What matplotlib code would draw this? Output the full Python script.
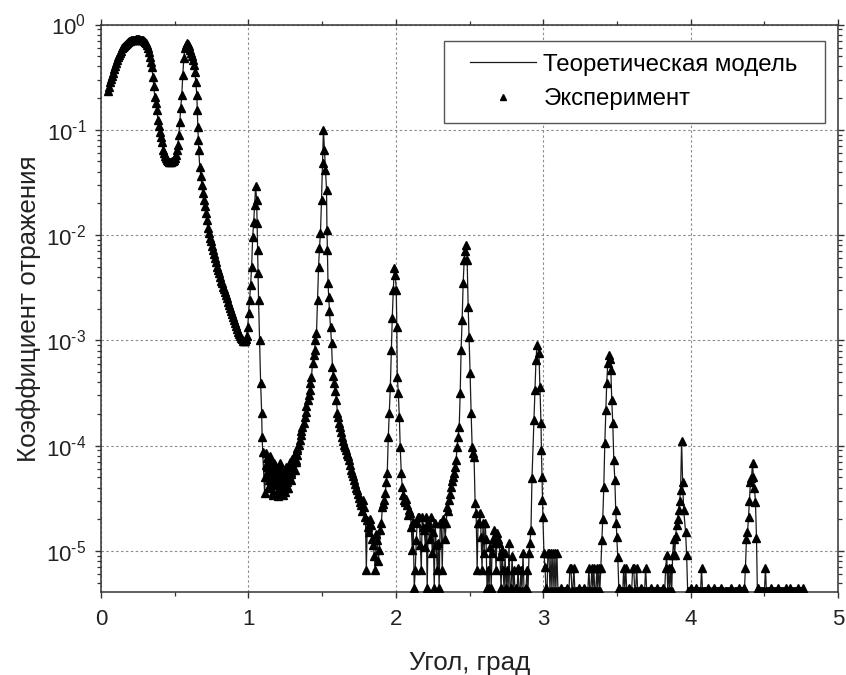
import numpy as np
import matplotlib
matplotlib.use("Agg")
import matplotlib.pyplot as plt
from matplotlib.patches import Rectangle
from matplotlib.ticker import MultipleLocator, LogLocator, FuncFormatter, NullFormatter

plt.rcParams["font.family"] = ["Liberation Sans", "DejaVu Sans"]
plt.rcParams["mathtext.fontset"] = "custom"
plt.rcParams["mathtext.rm"] = "Liberation Sans"
plt.rcParams["mathtext.it"] = "Liberation Sans"
plt.rcParams["mathtext.default"] = "regular"

# --- total external reflection region and first Bragg peak (angle, deg / reflectivity)
angle_a = [0.045, 0.052, 0.061, 0.068, 0.074, 0.081, 0.088, 0.095, 0.101, 0.108,
           0.115, 0.122, 0.129, 0.135, 0.142, 0.149, 0.155, 0.162, 0.169, 0.176,
           0.183, 0.190, 0.196, 0.203, 0.210, 0.217, 0.223, 0.230, 0.237, 0.244,
           0.250, 0.257, 0.264, 0.270, 0.277, 0.284, 0.291, 0.298, 0.304, 0.311,
           0.318, 0.325, 0.332, 0.338, 0.345, 0.352, 0.358, 0.365, 0.372, 0.379,
           0.386, 0.392, 0.399, 0.406, 0.413, 0.420, 0.427, 0.433, 0.440, 0.447,
           0.454, 0.460, 0.467, 0.474, 0.481, 0.488, 0.494, 0.501, 0.508, 0.514,
           0.521, 0.528, 0.535, 0.541, 0.548, 0.555, 0.562, 0.569, 0.575, 0.582,
           0.589, 0.595, 0.602, 0.609, 0.616, 0.623, 0.630, 0.636, 0.643, 0.650,
           0.653, 0.657, 0.660, 0.663, 0.670, 0.677, 0.684, 0.690, 0.697, 0.704,
           0.711, 0.717, 0.724, 0.731, 0.738, 0.745, 0.751, 0.758, 0.765, 0.771,
           0.778, 0.785, 0.792, 0.799, 0.806, 0.812, 0.819, 0.826, 0.832, 0.839,
           0.846, 0.853, 0.860, 0.866, 0.873, 0.880, 0.887, 0.893, 0.900, 0.907,
           0.914, 0.920, 0.927, 0.934, 0.941, 0.948, 0.954, 0.961, 0.968, 0.975,
           0.982, 0.988, 0.995, 1.002, 1.008, 1.015, 1.022, 1.029, 1.036, 1.042,
           1.049, 1.056, 1.059, 1.063, 1.066, 1.069, 1.076, 1.083, 1.090, 1.093,
           1.097]
refl_a = [0.235, 0.255, 0.284, 0.305, 0.325, 0.346, 0.375, 0.404, 0.430, 0.460,
          0.490, 0.515, 0.536, 0.565, 0.598, 0.615, 0.630, 0.639, 0.655, 0.667,
          0.678, 0.690, 0.697, 0.705, 0.712, 0.716, 0.718, 0.720, 0.725, 0.728,
          0.727, 0.724, 0.720, 0.717, 0.712, 0.705, 0.695, 0.682, 0.665, 0.639,
          0.598, 0.550, 0.491, 0.440, 0.395, 0.317, 0.260, 0.205, 0.180, 0.154,
          0.124, 0.108, 0.0953, 0.085, 0.0766, 0.0643, 0.060, 0.0564, 0.054, 0.0516,
          0.050, 0.0495, 0.0494, 0.0497, 0.0505, 0.051, 0.052, 0.0540, 0.058, 0.0643,
          0.0717, 0.090, 0.119, 0.161, 0.214, 0.331, 0.481, 0.598, 0.640, 0.667,
          0.653, 0.620, 0.573, 0.540, 0.502, 0.460, 0.410, 0.354, 0.284, 0.214,
          0.154, 0.106, 0.080, 0.0643, 0.0443, 0.036, 0.0299, 0.025, 0.0215, 0.0188,
          0.0162, 0.0139, 0.0117, 0.0104, 0.0094, 0.0087, 0.0079, 0.00722, 0.0066, 0.0060,
          0.00555, 0.0050, 0.0047, 0.00437, 0.0040, 0.0037, 0.00351, 0.0032, 0.0031, 0.00288,
          0.0027, 0.0025, 0.00232, 0.00218, 0.00204, 0.00190, 0.00178, 0.00167, 0.00156, 0.00146,
          0.00137, 0.00128, 0.00121, 0.00115, 0.00110, 0.00105, 0.00102, 0.00099, 0.00098, 0.00099,
          0.00103, 0.00110, 0.00134, 0.00182, 0.00242, 0.00336, 0.00498, 0.0096, 0.0133, 0.0193,
          0.029, 0.0215, 0.0130, 0.00722, 0.00437, 0.00242, 0.00101, 3.94e-4, 2.04e-4, 1.21e-4,
          8.71e-5]

# --- second and third Bragg peaks
angle_b = [1.110, 1.113, 1.117, 1.120, 1.124, 1.127, 1.130, 1.134, 1.137, 1.140,
           1.144, 1.147, 1.151, 1.154, 1.157, 1.161, 1.164, 1.167, 1.171, 1.174,
           1.178, 1.181, 1.184, 1.188, 1.191, 1.194, 1.198, 1.201, 1.205, 1.208,
           1.211, 1.215, 1.218, 1.221, 1.225, 1.228, 1.232, 1.235, 1.238, 1.242,
           1.245, 1.248, 1.252, 1.255, 1.259, 1.262, 1.265, 1.269, 1.272, 1.276,
           1.279, 1.282, 1.286, 1.289, 1.292, 1.296, 1.299, 1.303, 1.306, 1.309,
           1.313, 1.316, 1.320, 1.323, 1.327, 1.330, 1.333, 1.340, 1.347, 1.354,
           1.360, 1.367, 1.374, 1.381, 1.388, 1.394, 1.401, 1.408, 1.415, 1.421,
           1.428, 1.435, 1.442, 1.449, 1.455, 1.462, 1.469, 1.476, 1.482, 1.489,
           1.496, 1.503, 1.509, 1.516, 1.523, 1.530, 1.533, 1.536, 1.540, 1.545,
           1.550, 1.557, 1.564, 1.570, 1.577, 1.584, 1.590, 1.597, 1.604, 1.611,
           1.618, 1.624, 1.631, 1.638, 1.645, 1.651, 1.658, 1.665, 1.672, 1.678,
           1.685, 1.692, 1.699, 1.706, 1.712, 1.719, 1.726, 1.732, 1.739, 1.746,
           1.753, 1.759, 1.766, 1.773, 1.780, 1.787, 1.794, 1.800, 1.807, 1.814,
           1.821, 1.827, 1.834, 1.841, 1.848, 1.854, 1.861, 1.868, 1.875, 1.881,
           1.888, 1.895, 1.902, 1.909, 1.915, 1.922, 1.929, 1.935, 1.942, 1.949,
           1.956, 1.963, 1.970, 1.976, 1.983, 1.990, 1.997, 2.003, 2.007, 2.010,
           2.017, 2.024, 2.030, 2.037, 2.044, 2.051, 2.058, 2.064, 2.071, 2.078,
           2.085, 2.091, 2.098, 2.105, 2.112, 2.118, 2.125, 2.132, 2.139, 2.145,
           2.152, 2.159, 2.166, 2.173, 2.179, 2.186, 2.193, 2.200, 2.206, 2.213,
           2.220, 2.227, 2.233, 2.240, 2.247, 2.254, 2.261, 2.267, 2.274, 2.281,
           2.288, 2.294, 2.301, 2.308, 2.315, 2.322, 2.328, 2.335, 2.342, 2.349,
           2.355]
refl_b = [3.55e-5, 5.0e-5, 6.56e-5, 8.5e-5, 7.64e-5, 6.2e-5, 5.27e-5, 4.0e-5, 4.72e-5, 5.9e-5,
          7.0e-5, 8.0e-5, 6.56e-5, 5.3e-5, 4.23e-5, 4.6e-5, 3.4e-5, 3.6e-5, 5.88e-5, 6.8e-5,
          6.56e-5, 5.6e-5, 4.93e-5, 4.3e-5, 5.27e-5, 6.1e-5, 3.8e-5, 3.3e-5, 4.23e-5, 5.0e-5,
          6.0e-5, 6.9e-5, 5.88e-5, 4.1e-5, 4.5e-5, 3.7e-5, 3.4e-5, 5.3e-5, 3.97e-5, 4.4e-5,
          4.93e-5, 3.6e-5, 6.2e-5, 5.0e-5, 3.97e-5, 5.6e-5, 4.5e-5, 4.0e-5, 5.88e-5, 5.1e-5,
          7.0e-5, 6.3e-5, 4.72e-5, 5.4e-5, 5.6e-5, 7.4e-5, 6.56e-5, 6.0e-5, 7.64e-5, 7.0e-5,
          5.88e-5, 8.4e-5, 7.0e-5, 7.3e-5, 8.16e-5, 9.0e-5, 9.5e-5, 1.02e-4, 1.13e-4, 1.25e-4,
          1.38e-4, 1.50e-4, 1.65e-4, 1.87e-4, 2.1e-4, 2.4e-4, 2.72e-4, 3.0e-4, 3.38e-4, 3.9e-4,
          4.49e-4, 6.10e-4, 7.2e-4, 8.1e-4, 1.0e-3, 1.18e-3, 2.42e-3, 4.98e-3, 7.5e-3, 1.05e-2,
          2.15e-2, 4.84e-2, 0.100, 0.0643, 0.0415, 0.0268, 0.0112, 0.00722, 0.00351, 0.0026,
          0.0019, 1.35e-3, 9.45e-4, 5.59e-4, 4.6e-4, 3.94e-4, 3.3e-4, 2.72e-4, 2.04e-4, 1.85e-4,
          1.64e-4, 1.5e-4, 1.35e-4, 1.21e-4, 1.1e-4, 1.02e-4, 9.8e-5, 9.1e-5, 8.3e-5, 7.9e-5,
          7.3e-5, 6.5e-5, 5.88e-5, 5.5e-5, 5.1e-5, 4.72e-5, 4.3e-5, 4.0e-5, 3.8e-5, 3.5e-5,
          3.19e-5, 2.9e-5, 2.73e-5, 2.4e-5, 3.05e-5, 2.6e-5, 2.10e-5, 6.6e-6, 1.97e-5, 1.7e-5,
          1.52e-5, 2.0e-5, 1.77e-5, 1.3e-5, 1.14e-5, 9.0e-6, 6.6e-6, 1.45e-5, 1.27e-5, 8.0e-6,
          1.02e-5, 1.58e-5, 1.85e-5, 2.62e-5, 2.8e-5, 3.05e-5, 3.55e-5, 4.5e-5, 5.5e-5, 1.21e-4,
          2.04e-4, 3.61e-4, 8.1e-4, 1.63e-3, 3.0e-3, 4.87e-3, 4.18e-3, 3.0e-3, 1.34e-3, 4.49e-4,
          3.17e-4, 1.87e-4, 9.7e-5, 5.5e-5, 4.05e-5, 3.4e-5, 3.05e-5, 2.9e-5, 3.1e-5, 2.73e-5,
          2.2e-5, 2.45e-5, 2.3e-5, 1.69e-5, 1.02e-5, 1.9e-5, 4.4e-6, 6.6e-6, 1.27e-5, 1.85e-5,
          2.10e-5, 2.1e-5, 1.14e-5, 6.6e-6, 2.10e-5, 1.7e-5, 1.58e-5, 1.1e-5, 2.10e-5, 4.4e-6,
          1.85e-5, 1.69e-5, 1.3e-5, 2.10e-5, 9.6e-6, 1.5e-5, 4.4e-6, 1.85e-5, 1.14e-5, 6.6e-6,
          1.2e-5, 4.4e-6, 1.85e-5, 1.85e-5, 6.6e-6, 2.0e-5, 1.85e-5, 1.3e-5, 1.85e-5, 2.62e-5,
          2.4e-5]

# --- higher-order Bragg peaks down to the background level
angle_c = [2.362, 2.369, 2.376, 2.383, 2.389, 2.396, 2.403, 2.409, 2.416, 2.423,
           2.430, 2.437, 2.443, 2.450, 2.457, 2.464, 2.470, 2.477, 2.484, 2.491,
           2.497, 2.504, 2.511, 2.518, 2.524, 2.531, 2.538, 2.545, 2.552, 2.558,
           2.565, 2.572, 2.579, 2.585, 2.592, 2.599, 2.606, 2.612, 2.619, 2.626,
           2.633, 2.640, 2.647, 2.653, 2.660, 2.667, 2.674, 2.680, 2.687, 2.694,
           2.701, 2.707, 2.714, 2.721, 2.728, 2.735, 2.741, 2.748, 2.755, 2.762,
           2.768, 2.775, 2.782, 2.789, 2.796, 2.802, 2.809, 2.816, 2.823, 2.829,
           2.836, 2.843, 2.849, 2.856, 2.863, 2.870, 2.876, 2.883, 2.890, 2.897,
           2.904, 2.910, 2.917, 2.924, 2.937, 2.944, 2.951, 2.958, 2.971, 2.978,
           2.985, 2.988, 2.992, 2.995, 2.998, 3.005, 3.012, 3.019, 3.026, 3.032,
           3.039, 3.046, 3.053, 3.059, 3.066, 3.073, 3.080, 3.086, 3.093, 3.100,
           3.107, 3.113, 3.120, 3.127, 3.134, 3.141, 3.147, 3.154, 3.161, 3.168,
           3.175, 3.181, 3.188, 3.195, 3.201, 3.208, 3.215, 3.222, 3.228, 3.235,
           3.242, 3.249, 3.256, 3.262, 3.269, 3.276, 3.283, 3.290, 3.296, 3.303,
           3.310, 3.316, 3.323, 3.330, 3.337, 3.343, 3.350, 3.357, 3.364, 3.370,
           3.377, 3.384, 3.391, 3.398, 3.404, 3.411, 3.418, 3.425, 3.431, 3.438,
           3.445, 3.452, 3.459, 3.465, 3.472, 3.479, 3.486, 3.492, 3.496, 3.499,
           3.506, 3.513, 3.520, 3.526, 3.533, 3.540, 3.546, 3.553, 3.560, 3.567,
           3.573, 3.580, 3.587, 3.594, 3.600, 3.607, 3.614, 3.621, 3.627, 3.634,
           3.641, 3.648, 3.654, 3.661, 3.668, 3.675, 3.682, 3.688, 3.695, 3.702,
           3.709, 3.716, 3.722, 3.729, 3.736, 3.743, 3.750, 3.757, 3.763, 3.770,
           3.777, 3.784, 3.790, 3.797, 3.804, 3.810, 3.817, 3.824, 3.831, 3.838,
           3.845, 3.851, 3.858, 3.865, 3.872, 3.878, 3.885, 3.892, 3.899, 3.905,
           3.912, 3.919, 3.926, 3.932, 3.939, 3.946, 3.953, 3.966, 3.973, 3.980,
           3.987, 3.993, 4.000, 4.007, 4.014, 4.020, 4.027, 4.034, 4.041, 4.047,
           4.054, 4.061, 4.068, 4.074, 4.081, 4.088, 4.095, 4.101, 4.108, 4.115,
           4.122, 4.128, 4.135, 4.142, 4.149, 4.156, 4.162, 4.169, 4.176, 4.183,
           4.189, 4.196, 4.203, 4.210, 4.216, 4.223, 4.230, 4.237, 4.243, 4.250,
           4.257, 4.264, 4.270, 4.277, 4.284, 4.291, 4.298, 4.304, 4.311, 4.318,
           4.325, 4.332, 4.338, 4.345, 4.352, 4.359, 4.365, 4.372, 4.379, 4.386,
           4.393, 4.399, 4.406, 4.413, 4.420, 4.426, 4.433, 4.440, 4.447, 4.453,
           4.460, 4.467, 4.474, 4.481, 4.487, 4.494, 4.501, 4.508, 4.514, 4.521,
           4.528, 4.535, 4.541, 4.548, 4.555, 4.562, 4.569, 4.575, 4.582, 4.589,
           4.596, 4.603, 4.609, 4.616, 4.623, 4.630, 4.636, 4.643, 4.650, 4.657,
           4.663, 4.670, 4.677, 4.684, 4.690, 4.697, 4.704, 4.711, 4.717, 4.724,
           4.731, 4.738, 4.745, 4.751, 4.758, 4.765]
refl_c = [3.05e-5, 3.5e-5, 4.05e-5, 4.6e-5, 5.0e-5, 5.5e-5, 6.3e-5, 7.3e-5, 9.7e-5, 1.2e-4,
          1.50e-4, 3.17e-4, 8.1e-4, 1.56e-3, 3.51e-3, 5.8e-3, 7.0e-3, 8.05e-3, 5.8e-3, 2.08e-3,
          1.08e-3, 4.90e-4, 2.04e-4, 9.7e-5, 8.5e-5, 7.81e-5, 2.86e-5, 2.30e-5, 6.6e-6, 1.85e-5,
          1.85e-5, 2.3e-5, 1.36e-5, 6.6e-6, 1.85e-5, 9.6e-6, 1.85e-5, 1.3e-5, 4.4e-6, 6.6e-6,
          4.4e-6, 1.1e-5, 4.4e-6, 9.6e-6, 1.3e-5, 1.58e-5, 1.2e-5, 6.6e-6, 1.48e-5, 1.3e-5,
          1.19e-5, 9.0e-6, 4.4e-6, 1.02e-5, 6.6e-6, 4.2e-6, 9.6e-6, 4.4e-6, 6.6e-6, 4.2e-6,
          1.2e-5, 4.2e-6, 4.4e-6, 9.0e-6, 4.2e-6, 6.6e-6, 4.2e-6, 4.4e-6, 4.2e-6, 6.9e-6,
          4.2e-6, 4.2e-6, 6.6e-6, 4.2e-6, 9.6e-6, 4.2e-6, 4.2e-6, 4.4e-6, 6.6e-6, 4.2e-6,
          9.6e-6, 1.2e-5, 1.58e-5, 4.93e-5, 1.75e-4, 3.38e-4, 6.5e-4, 9.0e-4, 7.59e-4, 3.61e-4,
          1.64e-4, 9.1e-5, 5.04e-5, 3.05e-5, 2.10e-5, 9.6e-6, 7.05e-6, 4.4e-6, 4.2e-6, 9.6e-6,
          9.6e-6, 4.2e-6, 9.6e-6, 4.2e-6, 9.6e-6, 4.2e-6, 9.6e-6, 4.2e-6, 9.6e-6, 4.2e-6,
          4.2e-6, 4.2e-6, 4.4e-6, 4.2e-6, 4.2e-6, 4.2e-6, 4.2e-6, 4.2e-6, 4.4e-6, 4.2e-6,
          4.2e-6, 6.9e-6, 6.9e-6, 4.2e-6, 4.2e-6, 6.9e-6, 4.2e-6, 4.2e-6, 4.2e-6, 4.2e-6,
          4.4e-6, 4.2e-6, 4.2e-6, 4.2e-6, 4.2e-6, 4.4e-6, 4.2e-6, 4.2e-6, 4.2e-6, 4.2e-6,
          6.9e-6, 4.2e-6, 4.2e-6, 6.9e-6, 4.2e-6, 6.9e-6, 4.2e-6, 4.2e-6, 6.9e-6, 4.2e-6,
          6.9e-6, 4.2e-6, 6.9e-6, 1.27e-5, 2.0e-5, 4.05e-5, 1.06e-4, 2.2e-4, 3.94e-4, 6.1e-4,
          7.27e-4, 6.7e-4, 5.2e-4, 2.72e-4, 1.64e-4, 7.3e-5, 4.72e-5, 2.45e-5, 1.85e-5, 1.36e-5,
          8.77e-6, 4.4e-6, 4.2e-6, 4.2e-6, 4.2e-6, 4.2e-6, 6.9e-6, 4.2e-6, 6.9e-6, 4.2e-6,
          4.2e-6, 4.4e-6, 4.2e-6, 4.2e-6, 4.2e-6, 6.9e-6, 6.9e-6, 4.2e-6, 4.2e-6, 6.9e-6,
          4.2e-6, 4.2e-6, 4.2e-6, 4.4e-6, 4.2e-6, 4.2e-6, 4.2e-6, 4.2e-6, 6.9e-6, 4.2e-6,
          4.2e-6, 4.2e-6, 4.2e-6, 4.4e-6, 4.2e-6, 4.2e-6, 4.2e-6, 4.2e-6, 4.2e-6, 4.4e-6,
          4.2e-6, 4.2e-6, 4.2e-6, 4.2e-6, 4.2e-6, 4.4e-6, 4.2e-6, 4.2e-6, 6.9e-6, 9.16e-6,
          4.2e-6, 6.9e-6, 4.2e-6, 6.9e-6, 4.2e-6, 9.16e-6, 1.3e-5, 9.16e-6, 1.4e-5, 1.77e-5,
          2.0e-5, 2.45e-5, 3.0e-5, 3.8e-5, 1.1e-4, 4.52e-5, 2.45e-5, 1.52e-5, 9.16e-6, 4.2e-6,
          4.2e-6, 4.2e-6, 4.4e-6, 4.2e-6, 4.2e-6, 4.2e-6, 4.2e-6, 4.4e-6, 4.2e-6, 4.2e-6,
          4.2e-6, 4.2e-6, 4.2e-6, 6.9e-6, 4.2e-6, 4.2e-6, 4.2e-6, 4.2e-6, 4.2e-6, 4.4e-6,
          4.2e-6, 4.2e-6, 4.2e-6, 4.2e-6, 4.2e-6, 4.4e-6, 4.2e-6, 4.2e-6, 4.2e-6, 4.2e-6,
          4.2e-6, 4.2e-6, 4.4e-6, 4.2e-6, 4.2e-6, 4.2e-6, 4.2e-6, 4.2e-6, 4.2e-6, 4.2e-6,
          4.2e-6, 4.2e-6, 4.2e-6, 4.4e-6, 4.2e-6, 4.2e-6, 4.2e-6, 4.2e-6, 4.2e-6, 4.2e-6,
          4.4e-6, 4.2e-6, 4.2e-6, 4.2e-6, 4.2e-6, 4.4e-6, 4.2e-6, 6.9e-6, 1.3e-5, 1.5e-5,
          2.10e-5, 3.0e-5, 4.52e-5, 4.93e-5, 6.8e-5, 5.0e-5, 3.97e-5, 2.94e-5, 1.33e-5, 4.2e-6,
          4.4e-6, 4.2e-6, 4.2e-6, 4.2e-6, 4.2e-6, 4.2e-6, 4.2e-6, 6.9e-6, 4.2e-6, 4.2e-6,
          4.2e-6, 4.2e-6, 4.2e-6, 4.4e-6, 4.2e-6, 4.2e-6, 4.2e-6, 4.2e-6, 4.2e-6, 4.2e-6,
          4.4e-6, 4.2e-6, 4.2e-6, 4.2e-6, 4.2e-6, 4.2e-6, 4.2e-6, 4.2e-6, 4.4e-6, 4.2e-6,
          4.2e-6, 4.2e-6, 4.4e-6, 4.2e-6, 4.2e-6, 4.2e-6, 4.2e-6, 4.2e-6, 4.2e-6, 4.2e-6,
          4.4e-6, 4.2e-6, 4.2e-6, 4.2e-6, 4.2e-6, 4.4e-6]

x_ticks = [0, 1, 2, 3, 4, 5]
x_label = "Угол, град"
y_label = "Коэффициент отражения"
legend_labels = ["Теоретическая модель", "Эксперимент"]

angle = np.concatenate([angle_a, angle_b, angle_c])
refl = np.concatenate([refl_a, refl_b, refl_c])

W, H = 846, 675
fig = plt.figure(figsize=(W / 100, H / 100), dpi=100)
ax = fig.add_axes([101 / W, 1 - 592 / H, 737 / W, (592 - 24.5) / H])

ax.plot(angle, refl, "-", color="#1a1a1a", lw=0.9, label=legend_labels[0], zorder=3)
ax.plot(angle, refl, "^", color="black", ms=6.0, ls="none",
        label=legend_labels[1], zorder=4)

ax.set_yscale("log")
ax.set_xlim(x_ticks[0], x_ticks[-1])
ax.set_ylim(4.07e-6, 1.0)

ax.set_xticks(x_ticks)
ax.xaxis.set_minor_locator(MultipleLocator(0.5))
ax.yaxis.set_major_locator(LogLocator(base=10, numticks=12))
ax.yaxis.set_minor_locator(LogLocator(base=10, subs=np.arange(2, 10), numticks=12))
ax.yaxis.set_minor_formatter(NullFormatter())


def pow10_label(v, pos):
    e = int(round(np.log10(v)))
    if e < 0:
        return r"$10^{\text{-}%d}$" % (-e)
    return r"$10^{%d}$" % e


ax.yaxis.set_major_formatter(FuncFormatter(pow10_label))

for s in ax.spines.values():
    s.set_linewidth(1.1)
    s.set_color("#333333")

ax.tick_params(which="both", direction="out", top=True, right=True,
               labeltop=False, labelright=False, colors="#333333",
               labelcolor="#222222")
ax.tick_params(which="major", length=4.5, width=1.0, labelsize=16, pad=6)
ax.tick_params(axis="x", which="major", pad=8)
ax.tick_params(which="minor", length=2.6, width=0.9)

ax.grid(True, which="major", color="#8c8c8c", ls=(0, (2.2, 2.2)), lw=0.8, zorder=0)
ax.set_axisbelow(True)

ax.set_xlabel(x_label, fontsize=18.7, labelpad=15, color="#222222")
ax.set_ylabel(y_label, fontsize=18.7, labelpad=4, color="#222222")

# legend entries without frame, boxed by a separate rectangle
leg = ax.legend(loc="center left", bbox_to_anchor=(0.5007, 0.8987), borderaxespad=0,
                fontsize=17.3, frameon=False, handlelength=2.75, handletextpad=0.3,
                borderpad=0, labelspacing=0.53, markerscale=0.65)
ax.add_patch(Rectangle((0.4654, 0.8264), 0.9824 - 0.4654, 0.9709 - 0.8264,
                       transform=ax.transAxes, facecolor="white",
                       edgecolor="#555555", lw=1.0, zorder=5))
leg.set_zorder(6)

fig.savefig("out.png", dpi=100)
